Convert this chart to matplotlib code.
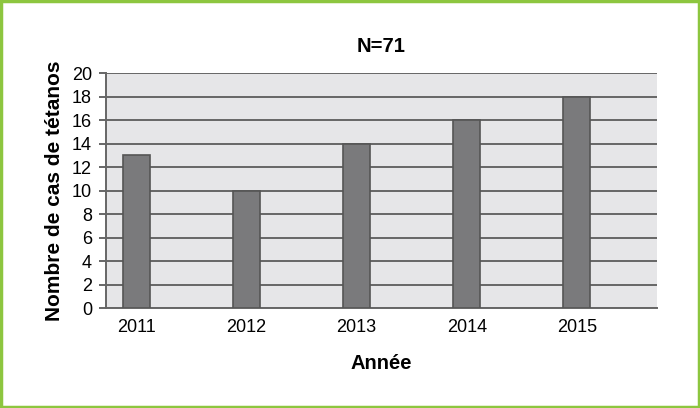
import matplotlib
matplotlib.use("Agg")
import matplotlib.pyplot as plt
from matplotlib.patches import Rectangle

plt.rcParams['font.family'] = ['Liberation Sans', 'DejaVu Sans']

annees = ['2011', '2012', '2013', '2014', '2015']
cas = [13, 10, 14, 16, 18]
y_ticks = list(range(0, 21, 2))

fig = plt.figure(figsize=(7, 4.08), dpi=100)
ax = fig.add_axes([0.1514, 0.245, 0.787, 0.576])
ax.set_facecolor('#e6e6e8')

x = range(len(annees))
ax.bar(x, cas, width=0.245, color='#7a7a7c', edgecolor='#555555', linewidth=1.2, zorder=3)

# barres décalées vers la gauche de chaque catégorie, comme dans l'original
ax.set_xlim(-0.277, len(annees) - 1 + 0.727)
ax.set_ylim(0, 20)
ax.set_yticks(y_ticks)
ax.set_xticks(list(x))
ax.set_xticklabels(annees)
ax.grid(axis='y', color='#666666', linewidth=1.4, zorder=1)
ax.set_axisbelow(True)

for s in ['top', 'right']:
    ax.spines[s].set_visible(False)
ax.spines['left'].set_color('#666666')
ax.spines['bottom'].set_color('#666666')
ax.spines['left'].set_linewidth(1.4)
ax.spines['bottom'].set_linewidth(1.4)
ax.tick_params(axis='y', length=5, width=1.4, color='#666666', labelsize=13, pad=5)
ax.tick_params(axis='x', length=0, labelsize=13, pad=8)

ax.set_title('N=71', fontsize=14.5, fontweight='bold', pad=15)
ax.set_ylabel('Nombre de cas de tétanos', fontsize=15, fontweight='bold', labelpad=6)
ax.set_xlabel('Année', fontsize=14.5, fontweight='bold', labelpad=13)

# cadre vert autour de la figure
fig.patches.append(Rectangle((0.002, 0.003), 0.996, 0.994, transform=fig.transFigure,
                             fill=False, edgecolor='#8dc63f', linewidth=2.5))

fig.savefig('out.png', dpi=100)
